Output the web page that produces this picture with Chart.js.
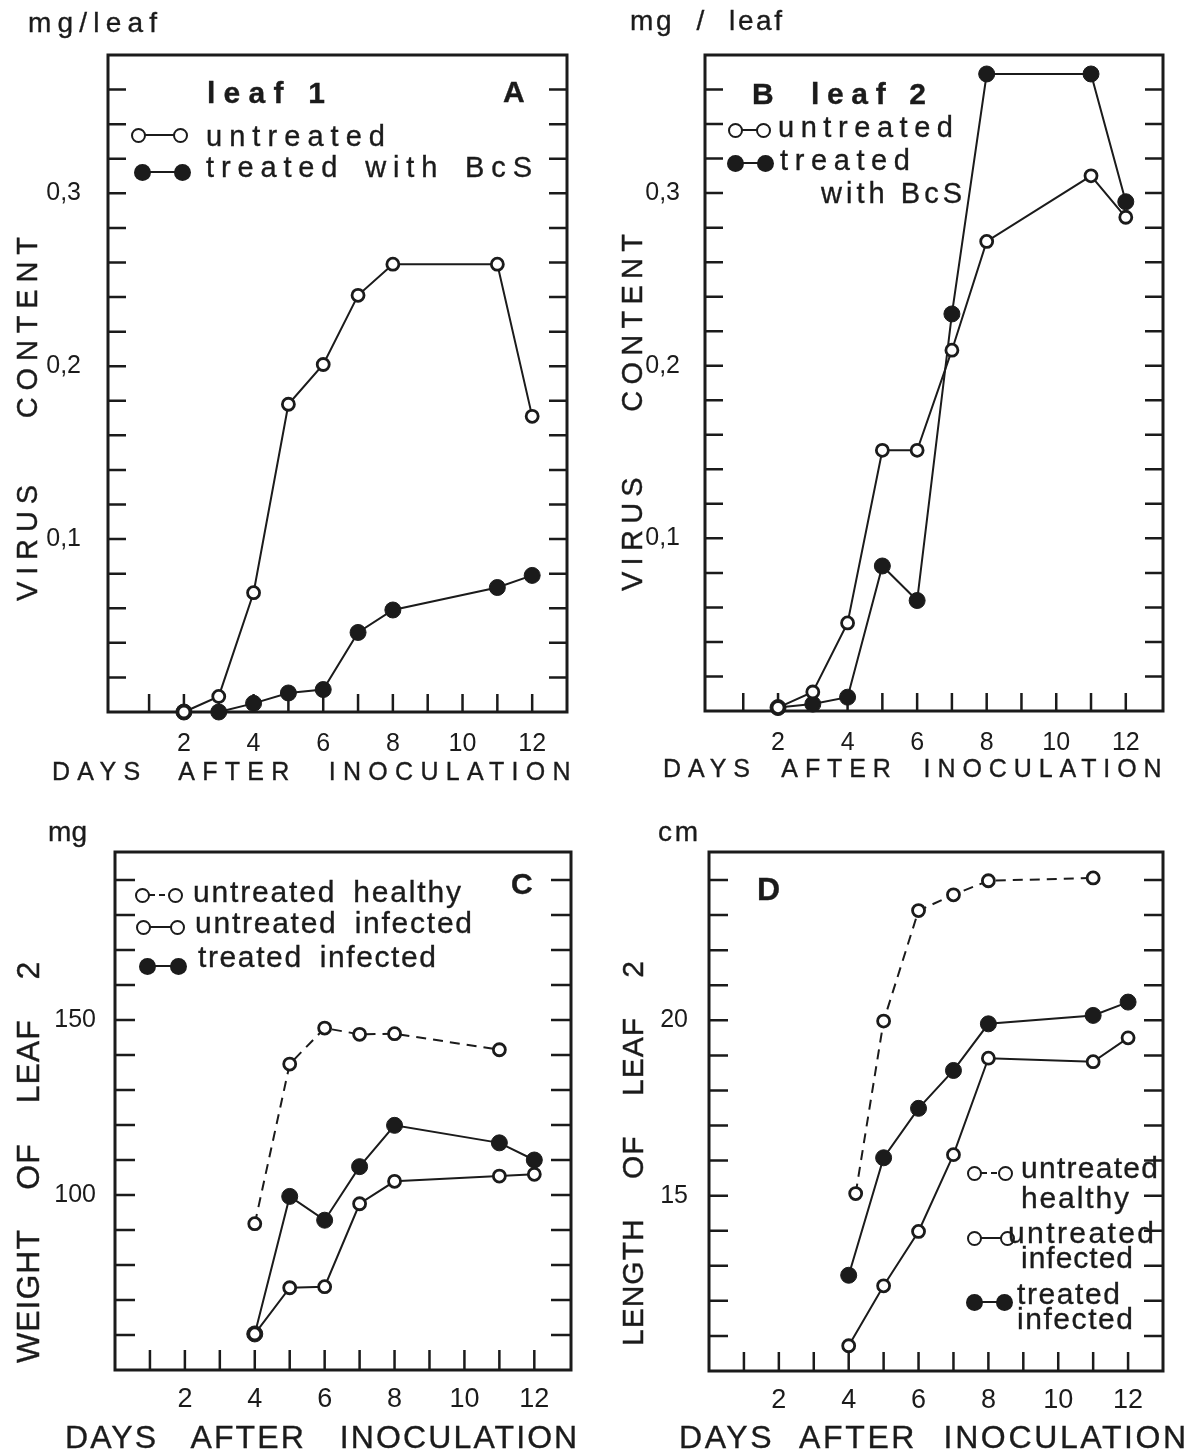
<!DOCTYPE html>
<html>
<head>
<meta charset="utf-8">
<script src="https://cdn.jsdelivr.net/npm/chart.js@4.4.1/dist/chart.umd.min.js"></script>
<style>
  html, body { margin: 0; background: #fff; }
  #page { position: relative; width: 1192px; height: 1456px; overflow: hidden;
          font-family: "Liberation Sans", Arial, sans-serif; color: #1b1b1b; }
  canvas { position: absolute; }
  .t { position: absolute; white-space: pre; line-height: 1; -webkit-text-stroke: 0.35px #1b1b1b; }
  .dot { position: absolute; border-radius: 50%; box-sizing: border-box; }
  .seg { position: absolute; }
</style>
</head>
<body>
<div id="page">
  <canvas id="chartA" width="596" height="800" style="left:0;top:0"></canvas>
  <canvas id="chartB" width="596" height="800" style="left:596px;top:0"></canvas>
  <canvas id="chartC" width="596" height="656" style="left:0;top:800px"></canvas>
  <canvas id="chartD" width="596" height="656" style="left:596px;top:800px"></canvas>
</div>
<script>
// ================= DATA =================
// A : leaf 1, virus content (mg/leaf)
const daysA = [2, 3, 4, 5, 6, 7, 8, 11, 12]
const untreatedA = [0, 0.009, 0.069, 0.178, 0.201, 0.241, 0.259, 0.259, 0.171]
const treatedA = [0, 0, 0.005, 0.011, 0.013, 0.046, 0.059, 0.072, 0.079]

// B : leaf 2, virus content (mg/leaf)
const daysB = [2, 3, 4, 5, 6, 7, 8, 11, 12]
const untreatedB = [0.002, 0.011, 0.051, 0.151, 0.151, 0.209, 0.272, 0.310, 0.286]
const treatedB = [0.002, 0.004, 0.008, 0.084, 0.064, 0.230, 0.369, 0.369, 0.295]

// C : weight of leaf 2 (mg)
const healthyDaysC = [4, 5, 6, 7, 8, 11]
const healthyC = [91.8, 137.4, 147.7, 145.9, 146.1, 141.5]
const daysC = [4, 5, 6, 7, 8, 11, 12]
const infectedC = [60.3, 73.5, 73.8, 97.5, 103.9, 105.4, 105.9]
const treatedC = [60.3, 99.6, 92.8, 108.1, 119.9, 114.9, 110.0]

// D : length of leaf 2 (cm)
const healthyDaysD = [4.2, 5, 6, 7, 8, 11]
const healthyD = [15.06, 19.98, 23.13, 23.58, 23.98, 24.06]
const daysD = [4, 5, 6, 7, 8, 11, 12]
const infectedD = [10.72, 12.43, 13.98, 16.17, 18.92, 18.82, 19.5]
const treatedD = [12.73, 16.08, 17.49, 18.57, 19.9, 20.14, 20.52]

// tick labels
const dayLabels = [2, 4, 6, 8, 10, 12]
const virusTicks = [0.1, 0.2, 0.3]
const virusTickLabels = ['0,1', '0,2', '0,3']
const weightTicks = [100, 150]
const weightTickLabels = ['100', '150']
const lengthTicks = [15, 20]
const lengthTickLabels = ['15', '20']

// ================= CHARTS =================
const ink = '#1b1b1b'
Chart.defaults.font.family = '"Liberation Sans", Arial, sans-serif'
Chart.defaults.color = ink

// fixed axis boxes so the plot area lands where it should
const Y_AXIS_W = 100
const X_AXIS_H = 50

// box round the plot + inward tick marks
const frame = {
  id: 'frame',
  beforeDatasetsDraw(chart, args, opts) {
    const { ctx, chartArea: a, scales: { x, y } } = chart
    ctx.save()
    ctx.strokeStyle = ink
    ctx.lineWidth = 2.5
    ctx.beginPath()
    y.ticks.forEach(t => {
      if (t.value <= y.min + 1e-9 || t.value >= y.max - 1e-9) return
      const py = y.getPixelForValue(t.value)
      ctx.moveTo(a.left, py)
      ctx.lineTo(a.left + opts.len, py)
      ctx.moveTo(a.right, py)
      ctx.lineTo(a.right - opts.len, py)
    })
    x.ticks.forEach(t => {
      if (t.value < 0.5 || t.value > x.max - 0.5) return
      const px = x.getPixelForValue(t.value)
      ctx.moveTo(px, a.bottom)
      ctx.lineTo(px, a.bottom - opts.len)
    })
    ctx.stroke()
    ctx.lineWidth = 3
    ctx.strokeRect(a.left, a.top, a.right - a.left, a.bottom - a.top)
    ctx.restore()
  }
}

function series(days, values, kind) {
  const filled = kind === 'treated'
  return {
    data: days.map((d, i) => ({ x: d, y: values[i] })),
    borderColor: ink,
    borderWidth: 2,
    borderDash: kind === 'healthy' ? [10, 7] : [],
    pointRadius: filled ? 8 : 6,
    pointBorderWidth: filled ? 1 : 2.8,
    pointBackgroundColor: filled ? ink : '#fff',
    pointBorderColor: ink,
    tension: 0,
    clip: false
  }
}

// p.box = plot frame inside the canvas: left, top, right, bottom margins
function panel(id, p) {
  const b = p.box
  return new Chart(document.getElementById(id), {
    type: 'line',
    data: { datasets: p.datasets },
    options: {
      responsive: false,
      animation: false,
      events: [],
      layout: {
        autoPadding: false,
        padding: { left: b.left - Y_AXIS_W, top: b.top, right: b.right, bottom: b.bottom - X_AXIS_H }
      },
      plugins: {
        legend: { display: false },
        tooltip: { enabled: false },
        frame: { len: p.tickLen }
      },
      scales: {
        x: {
          type: 'linear',
          min: p.xMin,
          max: p.xMax,
          grid: { display: false },
          border: { display: false },
          afterFit: s => { s.height = X_AXIS_H },
          ticks: {
            stepSize: 1,
            includeBounds: false,
            autoSkip: false,
            maxTicksLimit: 100,
            maxRotation: 0,
            padding: p.xPad,
            font: { size: p.xFont },
            callback: v => dayLabels.includes(v) ? String(v) : ''
          }
        },
        y: {
          type: 'linear',
          min: p.yMin,
          max: p.yMax,
          grid: { display: false },
          border: { display: false },
          afterFit: s => { s.width = Y_AXIS_W },
          ticks: {
            stepSize: p.yStep,
            includeBounds: false,
            autoSkip: false,
            maxTicksLimit: 100,
            padding: p.yPad,
            font: { size: p.yFont },
            callback: v => {
              const i = p.yTicks.findIndex(t => Math.abs(t - v) < 1e-6)
              return i < 0 ? '' : p.yLabels[i]
            }
          }
        }
      }
    },
    plugins: [frame]
  })
}

panel('chartA', {
  box: { left: 108, top: 55, right: 29, bottom: 88 },
  xMin: -0.18, xMax: 13, yMin: 0, yMax: 0.38, yStep: 0.02,
  yTicks: virusTicks, yLabels: virusTickLabels,
  yPad: 19, yFont: 25, xPad: 9, xFont: 25, tickLen: 18,
  datasets: [series(daysA, untreatedA, 'untreated'), series(daysA, treatedA, 'treated')]
})

panel('chartB', {
  box: { left: 109, top: 55, right: 29, bottom: 89 },
  xMin: -0.1, xMax: 13.07, yMin: 0, yMax: 0.38, yStep: 0.02,
  yTicks: virusTicks, yLabels: virusTickLabels,
  yPad: 17, yFont: 25, xPad: 9, xFont: 25, tickLen: 18,
  datasets: [series(daysB, untreatedB, 'untreated'), series(daysB, treatedB, 'treated')]
})

panel('chartC', {
  box: { left: 115, top: 52, right: 25, bottom: 86 },
  xMin: 0, xMax: 13.05, yMin: 50, yMax: 198, yStep: 10,
  yTicks: weightTicks, yLabels: weightTickLabels,
  yPad: 11, yFont: 25, xPad: 5, xFont: 27, tickLen: 20,
  datasets: [
    series(healthyDaysC, healthyC, 'healthy'),
    series(daysC, infectedC, 'untreated'),
    series(daysC, treatedC, 'treated')
  ]
})

panel('chartD', {
  box: { left: 113, top: 52, right: 29, bottom: 85 },
  xMin: 0, xMax: 13, yMin: 10, yMax: 24.8, yStep: 1,
  yTicks: lengthTicks, yLabels: lengthTickLabels,
  yPad: 13, yFont: 25, xPad: 5, xFont: 27, tickLen: 19,
  datasets: [
    series(healthyDaysD, healthyD, 'healthy'),
    series(daysD, infectedD, 'untreated'),
    series(daysD, treatedD, 'treated')
  ]
})

// ================= TEXT + LEGENDS =================
const page = document.getElementById('page')
const meter = document.createElement('canvas').getContext('2d')

// letter spacing is stretched so the text spans `width` px
function text(str, x, base, size, width, opt = {}) {
  const weight = opt.bold ? 'bold' : 'normal'
  const ws = opt.ws || 0
  meter.font = `${weight} ${size}px "Liberation Sans"`
  const natural = meter.measureText(str).width
  const spaces = str.split(' ').length - 1
  const ls = width ? (width - natural - ws * spaces) / (str.length - 1) : 0
  const el = document.createElement('div')
  el.className = 't'
  el.textContent = str
  Object.assign(el.style, {
    fontSize: size + 'px', fontWeight: weight,
    letterSpacing: ls + 'px', wordSpacing: ws + 'px'
  })
  if (opt.vertical) {
    el.style.left = (x - 0.488 * size) + 'px'
    el.style.top = base + 'px'
    el.style.transformOrigin = 'left top'
    el.style.transform = 'rotate(-90deg)'
  } else {
    el.style.left = x + 'px'
    el.style.top = (base - 0.8465 * size) + 'px'
  }
  page.appendChild(el)
}

function marker(x1, x2, y, kind) {
  const filled = kind === 'treated'
  const r = filled ? 8.5 : 7.5
  const seg = document.createElement('div')
  seg.className = 'seg'
  Object.assign(seg.style, {
    left: (x1 + r - 1) + 'px', top: (y - 1.25) + 'px',
    width: (x2 - x1 - 2 * r + 2) + 'px', height: '2.5px',
    background: kind === 'healthy'
      ? `repeating-linear-gradient(90deg, ${ink} 0 6px, transparent 6px 10px)`
      : ink
  })
  page.appendChild(seg)
  for (const cx of [x1, x2]) {
    const d = document.createElement('div')
    d.className = 'dot'
    Object.assign(d.style, {
      left: (cx - r) + 'px', top: (y - r) + 'px',
      width: 2 * r + 'px', height: 2 * r + 'px',
      background: filled ? ink : '#fff',
      border: filled ? 'none' : `2.8px solid ${ink}`
    })
    page.appendChild(d)
  }
}

// A
text('mg/leaf', 28, 33, 28, 129)
text('leaf 1', 207, 103, 30, 118, { bold: true })
text('A', 503, 102, 30, 0, { bold: true })
marker(138, 180, 135, 'untreated')
text('untreated', 206, 147, 29, 179)
marker(142, 182, 172, 'treated')
text('treated with BcS', 206, 178, 29, 326, { ws: 6 })
text('VIRUS CONTENT', 27, 601, 29, 364, { vertical: true, ws: 45 })
text('DAYS AFTER INOCULATION', 52, 780, 25, 520, { ws: 18 })

// B
text('mg / leaf', 630, 31, 28, 152, { ws: 12 })
text('B', 752, 104, 30, 0, { bold: true })
text('leaf 2', 811, 104, 30, 115, { bold: true })
marker(735, 763, 130, 'untreated')
text('untreated', 778, 138, 29, 175)
marker(735, 765, 163, 'treated')
text('treated', 780, 171, 29, 130)
text('with BcS', 821, 204, 29, 141)
text('VIRUS CONTENT', 632, 591, 29, 357, { vertical: true, ws: 45 })
text('DAYS AFTER INOCULATION', 663, 777, 25, 500, { ws: 12 })

// C
text('mg', 48, 842, 28, 39)
text('C', 511, 894, 30, 0, { bold: true })
marker(142, 175, 895, 'healthy')
text('untreated healthy', 193, 902, 30, 268, { ws: 7 })
marker(143, 177, 927, 'untreated')
text('untreated infected', 195, 933, 30, 277, { ws: 7 })
marker(147, 178, 966, 'treated')
text('treated infected', 198, 967, 30, 238, { ws: 7 })
text('WEIGHT OF LEAF 2', 28, 1363, 32, 402, { vertical: true, ws: 30 })
text('DAYS AFTER INOCULATION', 65, 1448, 32, 514, { ws: 23 })

// D
text('cm', 658, 842, 28, 40)
text('D', 757, 900, 32, 0, { bold: true })
marker(974, 1005, 1173, 'healthy')
text('untreated', 1021, 1178, 30, 137)
text('healthy', 1021, 1208, 30, 108)
marker(974, 1007, 1238, 'untreated')
text('untreated', 1008, 1243, 30, 146)
text('infected', 1021, 1268, 30, 112)
marker(974, 1004, 1302, 'treated')
text('treated', 1017, 1304, 30, 103)
text('infected', 1017, 1329, 30, 116)
text('LENGTH OF LEAF 2', 633, 1346, 30, 385, { vertical: true, ws: 30 })
text('DAYS AFTER INOCULATION', 679, 1448, 32, 509, { ws: 15 })
</script>
</body>
</html>
